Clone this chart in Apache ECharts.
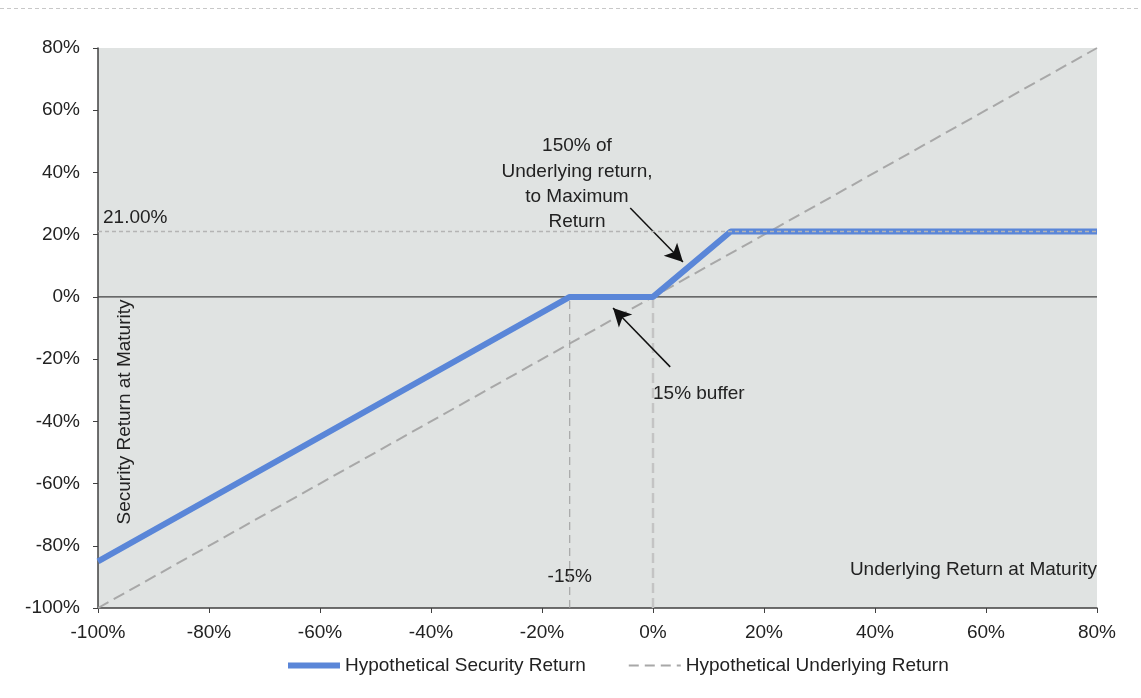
<!DOCTYPE html>
<html>
<head>
<meta charset="utf-8">
<script src="https://cdn.jsdelivr.net/npm/echarts@6/dist/echarts.min.js"></script>
<style>
html,body{margin:0;padding:0;background:#fff;}
#c{width:1141px;height:698px;}
</style>
</head>
<body>
<div id="c"></div>
<script>
// ---- data ----
const securityName = 'Hypothetical Security Return';
const underlyingName = 'Hypothetical Underlying Return';
const securityX = [-100, -15, 0, 14, 80];
const securityY = [-85, 0, 0, 21, 21];
const underlyingX = [-100, 80];
const underlyingY = [-100, 80];
const capLevel = 21;
const bufferLevel = -15;
const axisMin = -100, axisMax = 80, axisStep = 20;
const capLabel = '21.00%';
const bufferLabel = '-15%';
const upsideNote = ['150% of', 'Underlying return,', 'to Maximum', 'Return'];
const bufferNote = '15% buffer';
const xName = 'Underlying Return at Maturity';
const yName = 'Security Return at Maturity';

const FONT = '"Liberation Sans", Arial, sans-serif';
const FS = 19;
const BLUE = '#5a86d8';
const GRAY = '#a8a8a8';
const chart = echarts.init(document.getElementById('c'), null, {renderer: 'canvas'});

const pairs = (xs, ys) => xs.map((x, i) => [x, ys[i]]);

const option = {
  animation: false,
  backgroundColor: '#ffffff',
  grid: {left: 98, right: 44, top: 48, bottom: 90, show: true, backgroundColor: '#e0e3e2', borderWidth: 0},
  legend: {
    data: [
      {name: securityName, lineStyle: {color: BLUE, width: 6}},
      {name: underlyingName, lineStyle: {color: GRAY, width: 2, type: [10, 6]}}
    ],
    bottom: 18, left: 280,
    itemWidth: 52, itemHeight: 14, itemGap: 42,
    itemStyle: {opacity: 0},
    textStyle: {fontFamily: FONT, fontSize: FS, color: '#222'}
  },
  xAxis: {
    type: 'value', min: axisMin, max: axisMax, interval: axisStep,
    axisLine: {show: true, onZero: false, lineStyle: {color: '#404040', width: 1.5}},
    axisTick: {show: true, length: 5, lineStyle: {color: '#404040'}},
    splitLine: {show: false},
    axisLabel: {formatter: '{value}%', fontFamily: FONT, fontSize: FS, color: '#222', margin: 15}
  },
  yAxis: {
    type: 'value', min: axisMin, max: axisMax, interval: axisStep,
    axisLine: {show: true, onZero: false, lineStyle: {color: '#404040', width: 1.5}},
    axisTick: {show: true, length: 5, lineStyle: {color: '#404040'}},
    splitLine: {show: false},
    axisLabel: {formatter: '{value}%', fontFamily: FONT, fontSize: FS, color: '#222', margin: 18}
  },
  series: [
    {
      name: 'zero', type: 'line', data: [[axisMin, 0], [axisMax, 0]],
      symbol: 'none', lineStyle: {color: '#404040', width: 1.2}, z: 2, silent: true
    },
    {
      name: 'bufferLine', type: 'line', data: [[bufferLevel, axisMin], [bufferLevel, 0]],
      symbol: 'none', lineStyle: {color: '#9a9a9a', width: 1, type: [8, 5]}, z: 2, silent: true
    },
    {
      name: 'originLine', type: 'line', data: [[0, axisMin], [0, 0]],
      symbol: 'none', lineStyle: {color: '#c4c4c4', width: 2.5, type: [10, 5]}, z: 2, silent: true
    },
    {
      name: underlyingName, type: 'line', data: pairs(underlyingX, underlyingY),
      symbol: 'none', lineStyle: {color: GRAY, width: 2, type: [12, 6]}, itemStyle: {color: GRAY}, z: 3
    },
    {
      name: securityName, type: 'line', data: pairs(securityX, securityY),
      symbol: 'none', lineStyle: {color: BLUE, width: 6}, itemStyle: {color: BLUE}, z: 4,
      markLine: {
        silent: true, animation: false,
        symbol: ['none', 'arrow'], symbolSize: [14, 18],
        lineStyle: {color: '#111', width: 1.5, type: 'solid'},
        label: {show: false},
        data: [
          [{coord: [-4.1, 28.6]}, {coord: [5.4, 11.2]}],
          [{coord: [3.1, -22.5]}, {coord: [-7.2, -3.6]}]
        ]
      }
    },
    {
      name: 'capLine', type: 'line', data: [[axisMin, capLevel], [axisMax, capLevel]],
      symbol: 'none', lineStyle: {color: '#b4b4b4', width: 1.5, type: [4, 3]}, z: 5, silent: true
    }
  ]
};
chart.setOption(option);

function px(x, y) { return chart.convertToPixel({gridIndex: 0}, [x, y]); }
const tStyle = (extra) => Object.assign({fontFamily: FONT, fontSize: FS, fill: '#222'}, extra);
const cap = px(axisMin, capLevel);
const buf = px(bufferLevel, -89.8);
const note = px(-13.7, 40);
const bnote = px(0, -31.2);
const xn = px(axisMax, -87.8);
const yn = px(-95.1, -37);
const lineH = 25.3;

chart.setOption({
  graphic: [
    {type: 'line', shape: {x1: 0, y1: 8.5, x2: 1141, y2: 8.5}, style: {stroke: '#c8c8c8', lineWidth: 1, lineDash: [4, 3]}, silent: true},
    {type: 'text', x: cap[0] + 5, y: cap[1] - 4, style: tStyle({text: capLabel, textAlign: 'left', textVerticalAlign: 'bottom'})},
    {type: 'text', x: buf[0], y: buf[1], style: tStyle({text: bufferLabel, textAlign: 'center', textVerticalAlign: 'middle'})},
    {type: 'text', x: bnote[0], y: bnote[1], style: tStyle({text: bufferNote, textAlign: 'left', textVerticalAlign: 'middle'})},
    ...upsideNote.map((t, i) => ({type: 'text', x: note[0], y: 146 + i * lineH, style: tStyle({text: t, textAlign: 'center', textVerticalAlign: 'middle'})})),
    {type: 'text', x: xn[0], y: xn[1], style: tStyle({text: xName, textAlign: 'right', textVerticalAlign: 'middle'})},
    {type: 'text', x: yn[0], y: yn[1], rotation: Math.PI / 2, style: tStyle({text: yName, textAlign: 'center', textVerticalAlign: 'middle'})}
  ]
});
</script>
</body>
</html>
